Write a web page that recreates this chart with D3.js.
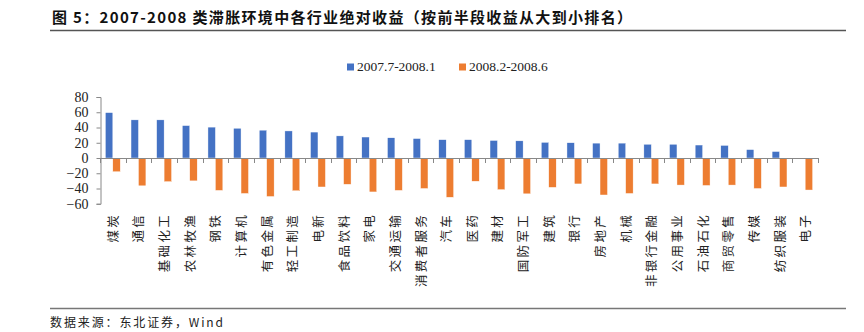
<!DOCTYPE html>
<html>
<head>
<meta charset="utf-8">
<script src="https://cdn.jsdelivr.net/npm/d3@7"></script>
<style>
  body { margin: 0; background: #fff; }
  svg { display: block; }
</style>
</head>
<body>
<div id="chart"></div>
<script>
var industries = ["煤炭", "通信", "基础化工", "农林牧渔", "钢铁", "计算机", "有色金属", "轻工制造",
  "电新", "食品饮料", "家电", "交通运输", "消费者服务", "汽车", "医药", "建材", "国防军工", "建筑",
  "银行", "房地产", "机械", "非银行金融", "公用事业", "石油石化", "商贸零售", "传媒", "纺织服装", "电子"];
var seriesNames = ["2007.7-2008.1", "2008.2-2008.6"];
var firstHalf = [59.5, 50, 50, 42.5, 40.5, 39, 36.5, 35.5, 34, 29, 27.5, 26.5, 25.5, 24,
  24, 23, 22.5, 20.5, 20, 19.5, 19.5, 18, 18, 17, 16.5, 11, 8.5, -0.5];
var secondHalf = [-18, -36.5, -31, -30, -42.5, -46.5, -50.5, -43, -38, -34.5, -44.5, -42.5, -40, -51.5,
  -30.5, -41.5, -47, -38.5, -34, -48.5, -46.5, -34, -35.5, -36, -35.5, -40, -38, -42];
var yTicks = [-60, -40, -20, 0, 20, 40, 60, 80];

(function (d3) {
  "use strict";

  var W = 864, H = 332;
  var colors = ["#4472C4", "#ED7D31"];
  var plot = {left: 100, right: 818, top: 97, bottom: 203.75};

  var svg = d3.select("#chart").append("svg")
    .attr("width", W)
    .attr("height", H);

  // header + footer
  svg.append("text")
    .attr("x", 52).attr("y", 23)
    .style("font-family", "'Noto Sans CJK SC', sans-serif")
    .style("font-weight", "bold")
    .style("font-size", "15px")
    .attr("textLength", 580)
    .attr("lengthAdjust", "spacing")
    .style("fill", "#111")
    .text("图 5：2007-2008 类滞胀环境中各行业绝对收益（按前半段收益从大到小排名）");
  svg.append("line")
    .attr("x1", 50).attr("x2", 846).attr("y1", 30.5).attr("y2", 30.5)
    .style("stroke", "#555").style("stroke-width", 1.5);
  svg.append("line")
    .attr("x1", 50).attr("x2", 846).attr("y1", 308.5).attr("y2", 308.5)
    .style("stroke", "#777").style("stroke-width", 1.5);
  svg.append("text")
    .attr("x", 50).attr("y", 327)
    .style("font-family", "'Noto Sans CJK SC', sans-serif")
    .style("font-size", "12px")
    .attr("textLength", 173)
    .attr("lengthAdjust", "spacing")
    .style("fill", "#222")
    .text("数据来源：东北证券，Wind");

  // legend
  var legendX = [347, 459];
  var legend = svg.append("g").attr("class", "legend");
  seriesNames.forEach(function (name, i) {
    legend.append("rect")
      .attr("x", legendX[i]).attr("y", 63.5)
      .attr("width", 7).attr("height", 7)
      .style("fill", colors[i]);
    legend.append("text")
      .attr("x", legendX[i] + 10).attr("y", 71)
      .style("font-family", "'Liberation Serif', 'Times New Roman', serif")
      .style("font-size", "13.5px")
      .style("fill", "#222")
      .text(name);
  });

  // scales
  var x0 = d3.scaleBand().domain(industries).range([plot.left, plot.right]).paddingInner(0.42).paddingOuter(0.21);
  var ticks = d3.scaleBand().domain(industries).range([plot.left, plot.right]);
  var x1 = d3.scaleBand().domain([0, 1]).range([0, x0.bandwidth()]);
  var y = d3.scaleLinear().domain([-60, 80]).range([plot.bottom, plot.top]);

  var rows = industries.map(function (name, i) {
    return {name: name, values: [firstHalf[i], secondHalf[i]]};
  });

  // bars
  var groups = svg.append("g").attr("class", "bars")
    .selectAll("g").data(rows).enter()
    .append("g")
    .attr("transform", function (d) { return "translate(" + x0(d.name) + ",0)"; });
  groups.selectAll("rect")
    .data(function (d) { return d.values; })
    .enter().append("rect")
    .attr("x", function (d, i) { return x1(i); })
    .attr("y", function (d) { return Math.min(y(d), y(0)); })
    .attr("width", x1.bandwidth())
    .attr("height", function (d) { return Math.abs(y(d) - y(0)); })
    .style("fill", function (d, i) { return colors[i]; })
    .style("stroke", "#fff").style("stroke-width", 0.4);

  // y axis
  var yAxis = svg.append("g")
    .attr("transform", "translate(" + (plot.left + 0.5) + ",0)")
    .call(d3.axisLeft(y).tickValues(yTicks).tickSize(4).tickPadding(8));
  yAxis.selectAll("path, line").style("stroke", "#888");
  yAxis.selectAll("text")
    .style("font-family", "'Liberation Serif', 'Times New Roman', serif")
    .style("font-size", "14px")
    .style("fill", "#222");

  // x axis at zero, ticks between categories
  var bounds = industries.map(function (d) { return ticks(d); }).concat([plot.right]);
  var xAxis = svg.append("g").attr("class", "x-axis");
  xAxis.append("line")
    .attr("x1", plot.left).attr("x2", plot.right)
    .attr("y1", y(0) + 0.5).attr("y2", y(0) + 0.5)
    .style("stroke", "#888");
  xAxis.selectAll("line.tick").data(bounds).enter()
    .append("line").attr("class", "tick")
    .attr("x1", function (d) { return Math.round(d) + 0.5; })
    .attr("x2", function (d) { return Math.round(d) + 0.5; })
    .attr("y1", y(0)).attr("y2", y(0) + 5)
    .style("stroke", "#888");

  // rotated category labels
  svg.append("g").attr("class", "x-labels")
    .selectAll("text").data(industries).enter()
    .append("text")
    .attr("transform", function (d) {
      return "translate(" + (ticks(d) + ticks.bandwidth() / 2 + 5) + ",213) rotate(-90)";
    })
    .style("text-anchor", "end")
    .style("font-family", "'Noto Sans CJK SC', sans-serif")
    .style("font-size", "12.5px")
    .style("letter-spacing", "2.3px")
    .style("fill", "#222")
    .text(function (d) { return d; });
}(d3));
</script>
</body>
</html>
